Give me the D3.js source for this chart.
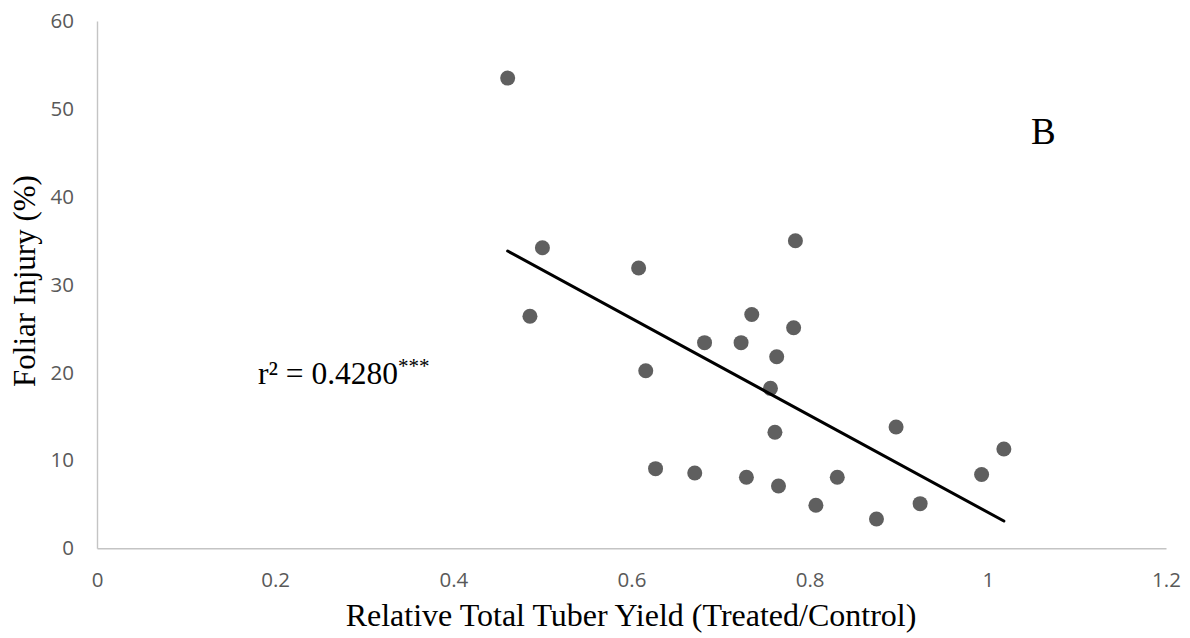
<!DOCTYPE html>
<html>
<head>
<meta charset="utf-8">
<script src="https://cdn.jsdelivr.net/npm/d3@7"></script>
<style>
  html, body { margin: 0; padding: 0; background: #ffffff; }
  svg { display: block; }
</style>
</head>
<body>
<svg id="chart" width="1190" height="638"></svg>
<script>
// Relative total tuber yield (treated/control) for each plot
const yieldRatio = [
  0.461, 0.500, 0.608, 0.486, 0.784, 0.735, 0.782, 0.682,
  0.723, 0.763, 0.616, 0.756, 0.761, 0.897, 1.018, 0.993,
  0.627, 0.671, 0.729, 0.765, 0.831, 0.807, 0.875, 0.924
];
// Foliar injury (%) for the same plots
const foliarInjury = [
  53.5, 34.2, 31.9, 26.4, 35.0, 26.6, 25.1, 23.4,
  23.4, 21.8, 20.2, 18.2, 13.2, 13.8, 11.3, 8.4,
  9.06, 8.57, 8.08, 7.09, 8.08, 4.9, 3.34, 5.08
];
const xTicks = [0, 0.2, 0.4, 0.6, 0.8, 1, 1.2];
const yTicks = [0, 10, 20, 30, 40, 50, 60];
const xTitle = "Relative Total Tuber Yield (Treated/Control)";
const yTitle = "Foliar Injury (%)";
const rSquared = "0.4280";
const signif = "***";
const panel = "B";

const svg = d3.select("#chart");
const plotLeft = 97, plotRight = 1166, plotTop = 21, plotBottom = 548.3;

const x = d3.scaleLinear().domain([0, 1.2]).range([plotLeft, plotRight]);
const y = d3.scaleLinear().domain([0, 60]).range([plotBottom, plotTop]);

const tickFont = "'Open Sans', 'Liberation Sans', sans-serif";
const serif = "'Liberation Serif', 'Times New Roman', serif";

// Axes: plain lines with labels only
const xAxis = d3.axisBottom(x).tickValues(xTicks).tickSize(0).tickPadding(24)
  .tickFormat(d => d3.format("")(d));
const yAxis = d3.axisLeft(y).tickValues(yTicks).tickSize(0).tickPadding(23);

const gx = svg.append("g").attr("transform", `translate(0,${plotBottom})`).call(xAxis);
const gy = svg.append("g").attr("transform", `translate(${plotLeft},0)`).call(yAxis);

[gx, gy].forEach(g => {
  g.select(".domain").attr("stroke", "#c4c4c4").attr("stroke-width", 1.4);
  g.selectAll("text")
    .attr("fill", "#595959")
    .style("font-family", tickFont)
    .style("font-size", "20.5px");
});

// Scatter points
const pts = yieldRatio.map((v, i) => ({ x: v, y: foliarInjury[i] }));
svg.append("g").selectAll("circle")
  .data(pts)
  .join("circle")
  .attr("cx", d => x(d.x))
  .attr("cy", d => y(d.y))
  .attr("r", 7.5)
  .attr("fill", "#5f5f5f");

// Least-squares trend line over the data range
const mx = d3.mean(pts, d => d.x), my = d3.mean(pts, d => d.y);
const slope = d3.sum(pts, d => (d.x - mx) * (d.y - my)) / d3.sum(pts, d => (d.x - mx) ** 2);
const intercept = my - slope * mx;
const [x0, x1] = d3.extent(pts, d => d.x);
const trend = [x0, x1].map(v => ({ x: v, y: intercept + slope * v }));
svg.append("path")
  .datum(trend)
  .attr("d", d3.line().x(d => x(d.x)).y(d => y(d.y)))
  .attr("stroke", "#000000")
  .attr("stroke-width", 3)
  .attr("stroke-linecap", "round")
  .attr("fill", "none");

// Axis titles
svg.append("text")
  .attr("x", 631)
  .attr("y", 626)
  .attr("text-anchor", "middle")
  .style("font-family", serif)
  .style("font-size", "32px")
  .attr("fill", "#000")
  .text(xTitle);

svg.append("text")
  .attr("transform", `translate(35,281) rotate(-90)`)
  .attr("text-anchor", "middle")
  .style("font-family", serif)
  .style("font-size", "31px")
  .attr("fill", "#000")
  .text(yTitle);

// Coefficient of determination
const rt = svg.append("text")
  .attr("x", 258)
  .attr("y", 384)
  .style("font-family", serif)
  .style("font-size", "31.5px")
  .attr("fill", "#000");
rt.append("tspan").text("r\u00B2 = " + rSquared);
rt.append("tspan")
  .attr("dy", -11)
  .style("font-size", "21px")
  .text(signif);

// Panel letter
svg.append("text")
  .attr("x", 1031)
  .attr("y", 144)
  .style("font-family", serif)
  .style("font-size", "37px")
  .attr("fill", "#000")
  .text(panel);
</script>
</body>
</html>
